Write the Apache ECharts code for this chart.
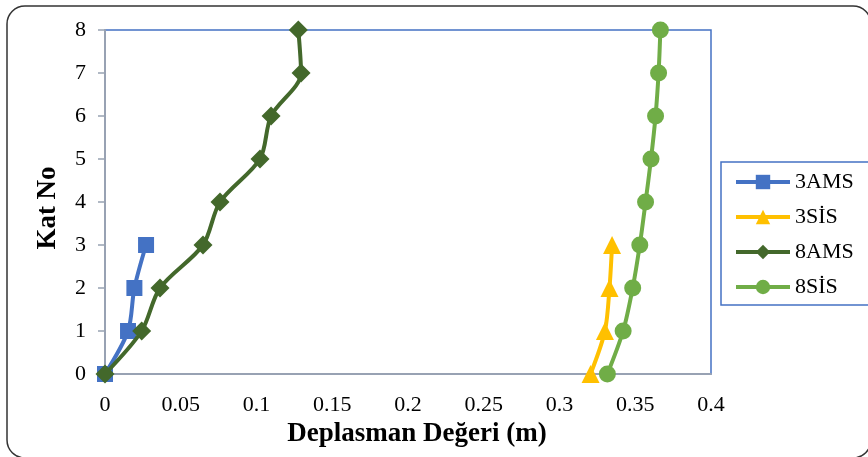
<!DOCTYPE html>
<html>
<head>
<meta charset="utf-8">
<script src="https://cdn.jsdelivr.net/npm/echarts@6/dist/echarts.min.js"></script>
<style>
html,body{margin:0;padding:0;background:#fff;}
#c{width:868px;height:457px;}
</style>
</head>
<body>
<div id="c"></div>
<script>
var floors3 = [0, 1, 2, 3];
var floors8 = [0, 1, 2, 3, 4, 5, 6, 7, 8];
var ams3 = [0, 0.0152, 0.0194, 0.0271];
var sis3 = [0.3205, 0.3300, 0.3330, 0.3347];
var ams8 = [0, 0.0242, 0.0363, 0.0647, 0.0759, 0.1023, 0.1096, 0.1294, 0.1276];
var sis8 = [0.3316, 0.3420, 0.3483, 0.3530, 0.3568, 0.3604, 0.3634, 0.3654, 0.3666];
var seriesNames = ['3AMS', '3SİS', '8AMS', '8SİS'];
var xTitle = 'Deplasman Değeri (m)';
var yTitle = 'Kat No';

function pairs(xs, ys) { return xs.map(function (v, i) { return [v, ys[i]]; }); }

var FONT = '"Liberation Serif", "Times New Roman", serif';
var colors = ['#4472C4', '#FFC000', '#43682B', '#70AD47'];
var symbols = ['rect', 'triangle', 'diamond', 'circle'];
var symSizes = [16, 18, 19, 17];
var datas = [pairs(ams3, floors3), pairs(sis3, floors3), pairs(ams8, floors8), pairs(sis8, floors8)];

var chart = echarts.init(document.getElementById('c'), null, {renderer: 'canvas'});
chart.setOption({
  animation: false,
  color: colors,
  grid: {left: 105, right: 157, top: 30, bottom: 83, show: true, borderColor: '#4472C4', borderWidth: 1.5},
  graphic: [
    {type: 'rect', shape: {x: 7, y: 6, width: 864, height: 452, r: 18}, style: {fill: 'none', stroke: '#333', lineWidth: 1.5}, z: 0},
    {type: 'rect', shape: {x: 721, y: 162, width: 160, height: 143}, style: {fill: '#fff', stroke: '#4472C4', lineWidth: 1.5}, z: 0}
  ],
  legend: {
    orient: 'vertical', left: 729, top: 166,
    itemWidth: 54, itemHeight: 18, itemGap: 13,
    lineStyle: {width: 4},
    textStyle: {fontFamily: FONT, fontSize: 22, color: '#000'},
    data: seriesNames, z: 5
  },
  xAxis: {
    type: 'value', min: 0, max: 0.4, interval: 0.05,
    name: xTitle, nameLocation: 'middle', nameGap: 47,
    nameTextStyle: {fontFamily: FONT, fontSize: 27, fontWeight: 'bold', color: '#000', padding: [0, 0, 0, 18]},
    axisLine: {show: true, lineStyle: {color: '#98A2B3', width: 2}},
    axisTick: {show: false},
    axisLabel: {fontFamily: FONT, fontSize: 22, color: '#000', margin: 20},
    splitLine: {show: false}
  },
  yAxis: {
    type: 'value', min: 0, max: 8, interval: 1,
    name: yTitle, nameLocation: 'middle', nameGap: 43, nameRotate: 90,
    nameTextStyle: {fontFamily: FONT, fontSize: 27, fontWeight: 'bold', color: '#000', padding: [0, 12, 0, 0]},
    axisLine: {show: true, lineStyle: {color: '#98A2B3', width: 2}},
    axisTick: {show: true, length: 7, lineStyle: {color: '#98A2B3', width: 1.5}},
    axisLabel: {fontFamily: FONT, fontSize: 22, color: '#000', margin: 19},
    splitLine: {show: false}
  },
  series: seriesNames.map(function (n, i) {
    return {
      name: n, type: 'line', data: datas[i], smooth: 0.3,
      symbol: symbols[i], symbolSize: symSizes[i], showAllSymbol: true,
      lineStyle: {color: colors[i], width: 4},
      itemStyle: {color: colors[i]},
      clip: false, z: 3 + i
    };
  })
});
</script>
</body>
</html>
